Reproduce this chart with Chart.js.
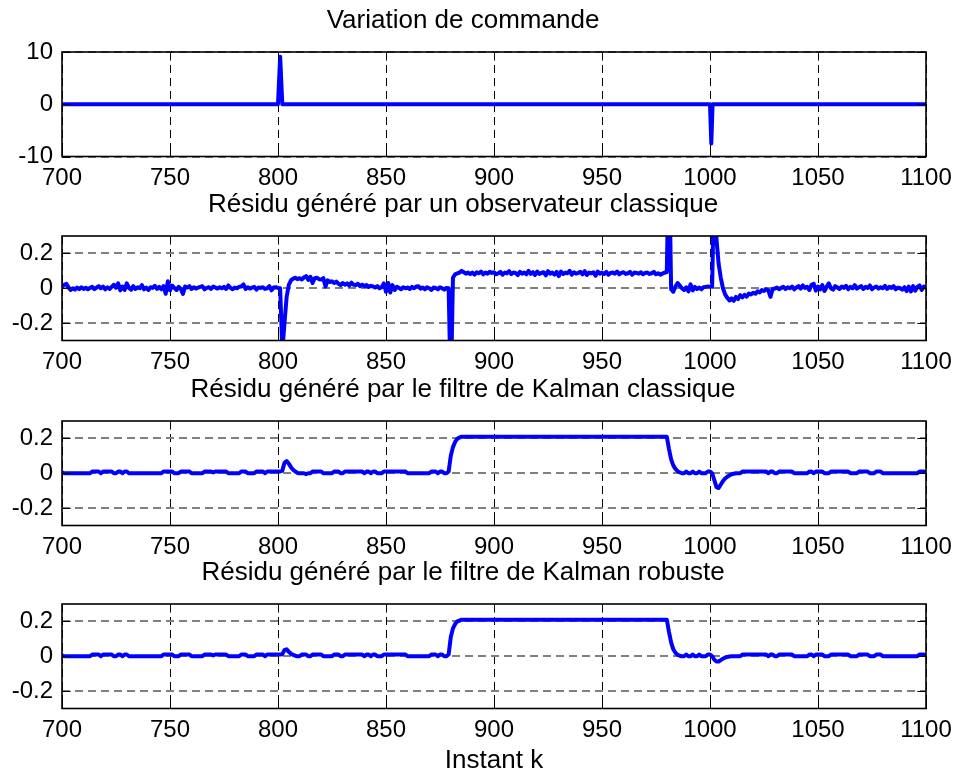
<!DOCTYPE html>
<html><head><meta charset="utf-8">
<script src="https://cdn.jsdelivr.net/npm/chart.js@4.4.1/dist/chart.umd.min.js"></script>
<style>
html,body{margin:0;padding:0;background:#fff;width:956px;height:776px;overflow:hidden;}
canvas{position:absolute;left:0;}
</style></head><body>
<canvas id="c1" width="956" height="197" style="top:0px"></canvas>
<canvas id="c2" width="956" height="197" style="top:184px"></canvas>
<canvas id="c3" width="956" height="197" style="top:369px"></canvas>
<canvas id="c4" width="956" height="222" style="top:552px"></canvas>
<script>
// ---- data ----
const K0 = 700; // first sampled instant (residual series are sampled every instant)
const titles = ['Variation de commande',
  'Résidu généré par un observateur classique',
  'Résidu généré par le filtre de Kalman classique',
  'Résidu généré par le filtre de Kalman robuste'];
const xLabel = 'Instant k';
const xTicks = [700, 750, 800, 850, 900, 950, 1000, 1050, 1100];
const cmdTicks = [-10, 0, 10];
const resTicks = [-0.2, 0, 0.2];

const cmdK = [700, 800, 801, 802, 1000, 1000.6, 1001.2, 1100];
const cmdU = [0, 0, 9.1, 0, 0, -7.5, 0, 0];

const obsRes = [
0.01,0.02,0.025,0.005,-0.01,0.0,-0.008,0.004,-0.005,0.006,
-0.004,0.003,-0.006,0.002,0.008,-0.005,0.004,0.012,0.0,0.01,
-0.006,0.005,-0.004,0.008,0.02,0.003,0.028,-0.012,0.01,-0.01,
0.028,0.002,-0.008,0.012,-0.004,0.006,0.0,0.018,-0.006,0.004,
-0.01,0.006,0.002,0.014,-0.004,0.008,-0.006,0.012,-0.032,0.04,
-0.012,0.016,0.002,-0.01,0.008,-0.004,-0.032,0.01,0.004,0.012,
-0.004,0.006,-0.002,0.004,0.008,0.012,-0.006,0.002,0.006,-0.004,
0.01,0.004,-0.002,0.006,0.0,0.008,-0.004,0.016,0.002,-0.006,
0.004,0.0,0.008,0.01,0.022,-0.004,0.006,-0.002,0.004,0.008,
-0.008,0.004,0.002,0.006,-0.004,0.0,0.012,-0.012,0.004,0.006,
0.002,0.0,-0.36,-0.2,-0.05,0.02,0.045,0.055,0.06,0.052,
0.058,0.05,0.062,0.07,0.048,0.066,0.03,0.058,0.06,0.052,
0.05,0.058,0.01,0.045,0.036,0.04,0.03,0.038,0.026,0.018,
0.03,0.02,0.028,0.015,0.032,0.02,0.018,0.026,0.012,0.02,
0.012,0.018,0.008,0.014,0.01,0.004,0.012,0.0,0.006,0.028,
-0.02,0.03,-0.024,0.018,-0.01,0.008,0.002,-0.006,0.006,0.0,
0.004,-0.004,0.008,0.0,0.01,0.012,-0.002,0.004,-0.006,0.006,
0.0,-0.01,0.004,0.002,-0.006,0.006,0.0,-0.008,0.002,0.0,
-0.6,0.06,0.08,0.085,0.09,0.1,0.092,0.084,0.09,0.082,
0.09,0.078,0.092,0.086,0.096,0.08,0.09,0.084,0.094,0.088,
0.092,0.08,0.086,0.094,0.078,0.09,0.086,0.098,0.082,0.09,
0.088,0.076,0.094,0.084,0.09,0.08,0.1,0.082,0.092,0.076,
0.096,0.082,0.088,0.092,0.074,0.098,0.084,0.09,0.078,0.094,
0.07,0.096,0.082,0.09,0.086,0.1,0.078,0.092,0.084,0.088,
0.094,0.08,0.098,0.076,0.09,0.086,0.092,0.072,0.096,0.084,
0.09,0.082,0.094,0.078,0.088,0.09,0.084,0.096,0.08,0.088,
0.092,0.082,0.086,0.094,0.078,0.09,0.088,0.084,0.092,0.08,
0.088,0.09,0.082,0.086,0.094,0.08,0.086,0.078,0.084,0.09,
0.092,0.8,-0.005,-0.02,0.01,0.03,0.015,0.0,-0.01,0.005,
-0.018,0.022,-0.012,0.008,-0.004,0.004,-0.006,0.006,0.008,0.01,
0.008,0.01,0.7,0.28,0.14,0.06,0.0,-0.035,-0.055,-0.07,
-0.058,-0.072,-0.05,-0.062,-0.04,-0.052,-0.038,-0.048,-0.03,-0.036,
-0.026,-0.032,-0.018,-0.024,-0.01,-0.016,-0.006,-0.012,-0.05,-0.004,
-0.002,0.004,-0.006,0.002,0.008,-0.004,0.006,0.0,0.01,-0.006,
0.004,0.012,-0.002,0.016,0.002,0.008,-0.01,0.02,0.026,-0.014,
0.01,-0.006,0.018,-0.016,0.008,0.028,0.0,-0.008,0.012,0.004,
-0.004,0.01,0.002,0.014,-0.006,0.008,0.0,0.018,-0.002,0.006,
0.012,-0.004,0.008,0.002,0.016,-0.006,0.004,0.01,-0.002,0.006,
0.0,0.014,-0.004,0.008,0.002,0.012,-0.006,0.004,0.0,-0.008,
0.006,-0.016,0.01,-0.018,0.012,-0.014,0.008,0.016,-0.01,0.01,
0.004];

const kalRes = [
0.005,0,0,0,0,0,0,0,0,0,
0,0,0,0,0.01,0.01,0.01,0.01,0,0.01,
0.01,0.01,0.01,0.01,0,0,0.01,0.01,0,0.01,
0.01,0,0,0,0,0,0,0,0,0,
0,0,0,0,0,0,0,0.01,0.01,0.01,
0.01,0.01,0,0,0,0.01,0.01,0.01,0.01,0.01,
0,0,0,0,0,0,0.01,0.01,0.01,0.01,
0.005,0.01,0.01,0.01,0.01,0.01,0.01,0,0,0,
0,0,0,0.01,0.01,0.01,0,0,0,0,
0.01,0.01,0.01,0.01,0,0.01,0.01,0.01,0.01,0.01,
0.01,0.01,0.015,0.06,0.07,0.055,0.035,0.02,0.01,0.002,
0,0,0,-0.005,0,0,0.01,0.01,0.01,0.01,
0.01,0,0,0,0,0,0.01,0.01,0.01,0,
0,0.01,0.01,0.01,0.01,0.01,0.01,0.01,0.01,0.01,
0,0.01,0.01,0,0.01,0.01,0,0,0,0.01,
0.01,0.01,0.01,0.01,0.01,0.01,0.01,0.01,0.01,0.01,
0,0,0,0,0,0,0,0,0,0,
0,0.01,0.01,0.01,0,0.01,0.01,0,0,0.01,
0.1,0.15,0.18,0.198,0.205,0.21,0.21,0.21,0.21,0.21,
0.21,0.21,0.21,0.21,0.21,0.21,0.21,0.21,0.21,0.21,
0.21,0.21,0.21,0.21,0.21,0.21,0.21,0.21,0.21,0.21,
0.21,0.21,0.21,0.21,0.21,0.21,0.21,0.21,0.21,0.21,
0.21,0.21,0.21,0.21,0.21,0.21,0.21,0.21,0.21,0.21,
0.21,0.21,0.21,0.21,0.21,0.21,0.21,0.21,0.21,0.21,
0.21,0.21,0.21,0.21,0.21,0.21,0.21,0.21,0.21,0.21,
0.21,0.21,0.21,0.21,0.21,0.21,0.21,0.21,0.21,0.21,
0.21,0.21,0.21,0.21,0.21,0.21,0.21,0.21,0.21,0.21,
0.21,0.21,0.21,0.21,0.21,0.21,0.21,0.21,0.21,0.21,
0.21,0.14,0.08,0.045,0.025,0.012,0.005,0,0,0.01,
0,0,0.01,0,0,0.01,0,0,0,0.01,
0.01,0,-0.04,-0.08,-0.085,-0.065,-0.045,-0.03,-0.02,-0.012,
-0.006,-0.003,0,0,0,0.01,0.01,0.01,0.01,0.01,
0.01,0.01,0.01,0.01,0.01,0.01,0.01,0,0.01,0.01,
0,0,0.01,0.01,0.01,0.01,0.01,0.01,0.01,0,
0,0,0,0,0,0,0.01,0.01,0,0.01,
0.01,0.01,0.01,0,0,0,0.01,0.01,0.01,0.01,
0.01,0.01,0.01,0.01,0.01,0,0,0,0,0.01,
0.01,0.01,0.01,0.01,0,0,0,0.01,0.01,0.01,
0,0,0,0,0,0,0,0,0,0,
0,0,0,0,0,0,0,0.01,0.01,0.01,
0.005];

const robRes = [
0.005,0,0,0,0,0,0,0,0,0,
0,0,0,0,0.01,0.01,0.01,0.01,0,0.01,
0.01,0.01,0.01,0.01,0,0,0.01,0.01,0,0.01,
0.01,0,0,0,0,0,0,0,0,0,
0,0,0,0,0,0,0,0.01,0.01,0.01,
0.01,0.01,0,0,0,0.01,0.01,0.01,0.01,0.01,
0,0,0,0,0,0,0.01,0.01,0.01,0.01,
0.005,0.01,0.01,0.01,0.01,0.01,0.01,0,0,0,
0,0,0,0.01,0.01,0.01,0,0,0,0,
0.01,0.01,0.01,0.01,0,0.01,0.01,0.01,0.01,0.01,
0.01,0.01,0.012,0.035,0.04,0.025,0.015,0.008,0.003,0,
0,0.01,0.01,0.01,0,0,0.01,0.01,0.01,0.01,
0.01,0,0,0,0,0,0.01,0.01,0.01,0,
0,0.01,0.01,0.01,0.01,0.01,0.01,0.01,0.01,0.01,
0,0.01,0.01,0,0.01,0.01,0,0,0,0.01,
0.01,0.01,0.01,0.01,0.01,0.01,0.01,0.01,0.01,0.01,
0,0,0,0,0,0,0,0,0,0,
0,0.01,0.01,0.01,0,0.01,0.01,0,0,0.01,
0.11,0.16,0.185,0.2,0.205,0.21,0.21,0.21,0.21,0.21,
0.21,0.21,0.21,0.21,0.21,0.21,0.21,0.21,0.21,0.21,
0.21,0.21,0.21,0.21,0.21,0.21,0.21,0.21,0.21,0.21,
0.21,0.21,0.21,0.21,0.21,0.21,0.21,0.21,0.21,0.21,
0.21,0.21,0.21,0.21,0.21,0.21,0.21,0.21,0.21,0.21,
0.21,0.21,0.21,0.21,0.21,0.21,0.21,0.21,0.21,0.21,
0.21,0.21,0.21,0.21,0.21,0.21,0.21,0.21,0.21,0.21,
0.21,0.21,0.21,0.21,0.21,0.21,0.21,0.21,0.21,0.21,
0.21,0.21,0.21,0.21,0.21,0.21,0.21,0.21,0.21,0.21,
0.21,0.21,0.21,0.21,0.21,0.21,0.21,0.21,0.21,0.21,
0.21,0.14,0.08,0.04,0.02,0.008,0.003,0,0,0.01,
0,0,0.01,0,0,0.01,0,0,0,0.01,
0.01,0,-0.02,-0.03,-0.03,-0.022,-0.014,-0.008,-0.004,-0.002,
0,0,0,0,0,0.01,0.01,0.01,0.01,0.01,
0.01,0.01,0.01,0.01,0.01,0.01,0.01,0,0.01,0.01,
0,0,0.01,0.01,0.01,0.01,0.01,0.01,0.01,0,
0,0,0,0,0,0,0.01,0.01,0,0.01,
0.01,0.01,0.01,0,0,0,0.01,0.01,0.01,0.01,
0.01,0.01,0.01,0.01,0.01,0,0,0,0,0.01,
0.01,0.01,0.01,0.01,0,0,0,0.01,0.01,0.01,
0,0,0,0,0,0,0,0,0,0,
0,0,0,0,0,0,0,0.01,0.01,0.01,
0.005];

// ---- drawing ----
const FONT = "'Liberation Sans', Arial, Helvetica, sans-serif";
Chart.defaults.color = '#000';
Chart.defaults.font.family = FONT;

const boxPlugin = {
  id: 'matlabBox',
  afterDraw(chart) {
    const {ctx, chartArea: a, scales} = chart;
    const TL = 8.6;
    ctx.save();
    ctx.strokeStyle = '#000';
    ctx.lineWidth = 1;
    ctx.setLineDash([]);
    ctx.beginPath();
    scales.x.ticks.forEach(t => {
      const px = Math.round(scales.x.getPixelForValue(t.value)) + 0.5;
      ctx.moveTo(px, a.bottom); ctx.lineTo(px, a.bottom - TL);
      ctx.moveTo(px, a.top); ctx.lineTo(px, a.top + TL);
    });
    scales.y.ticks.forEach(t => {
      const py = Math.round(scales.y.getPixelForValue(t.value)) + 0.5;
      ctx.moveTo(a.left, py); ctx.lineTo(a.left + TL, py);
      ctx.moveTo(a.right, py); ctx.lineTo(a.right - TL, py);
    });
    ctx.stroke();
    ctx.lineWidth = 1.6;
    ctx.strokeRect(a.left, a.top, a.right - a.left, a.bottom - a.top);
    ctx.restore();
  }
};

function makeChart(id, pts, yMin, yMax, yTicks, title, xTitle, xAxisH) {
  return new Chart(document.getElementById(id), {
    type: 'line',
    data: { datasets: [{
      data: pts, borderColor: '#0000ff', borderWidth: 4, pointRadius: 0,
      tension: 0, fill: false, clip: 0, borderJoinStyle: 'round', borderCapStyle: 'round'
    }] },
    options: {
      responsive: false, animation: false, devicePixelRatio: 1, events: [],
      layout: { autoPadding: false, padding: { left: 0, right: 30, top: 0, bottom: 0 } },
      plugins: {
        legend: { display: false }, tooltip: { enabled: false },
        title: { display: true, text: title, color: '#000',
          font: { family: FONT, size: 26, weight: 'normal', lineHeight: 1.2 },
          padding: { top: 5.4, bottom: 15.4 } }
      },
      scales: {
        x: {
          type: 'linear', min: 700, max: 1100,
          afterBuildTicks: s => { s.ticks = xTicks.map(v => ({ value: v })); },
          afterFit: s => { s.height = xAxisH; },
          ticks: { color: '#000', font: { family: FONT, size: 24 }, padding: 0,
            maxRotation: 0, autoSkip: false, callback: v => String(v) },
          grid: { color: '#000', lineWidth: 1, drawTicks: true, tickLength: 7.6,
            tickColor: 'rgba(0,0,0,0)' },
          border: { display: false, dash: [8, 5] },
          title: xTitle ? { display: true, text: xTitle, color: '#000',
            font: { family: FONT, size: 26, weight: 'normal', lineHeight: 1 },
            padding: { top: 0, bottom: 0 } } : { display: false }
        },
        y: {
          type: 'linear', min: yMin, max: yMax,
          afterBuildTicks: s => { s.ticks = yTicks.map(v => ({ value: v })); },
          afterFit: s => { s.width = 62; },
          ticks: { color: '#000', font: { family: FONT, size: 24 }, padding: 9,
            autoSkip: false, callback: v => String(v) },
          grid: { color: '#808080', lineWidth: 2, drawTicks: false },
          border: { display: false, dash: [8, 5] }
        }
      }
    },
    plugins: [boxPlugin]
  });
}

const cmdPts = cmdK.map((k, i) => ({ x: k, y: cmdU[i] }));
const toPts = arr => arr.map((v, i) => ({ x: K0 + i, y: v }));

makeChart('c1', cmdPts, -10, 10, cmdTicks, titles[0], null, 40.5);
makeChart('c2', toPts(obsRes), -0.3, 0.3, resTicks, titles[1], null, 40.5);
makeChart('c3', toPts(kalRes), -0.3, 0.3, resTicks, titles[2], null, 40.5);
makeChart('c4', toPts(robRes), -0.3, 0.3, resTicks, titles[3], xLabel, 65.5);
</script>
</body></html>
